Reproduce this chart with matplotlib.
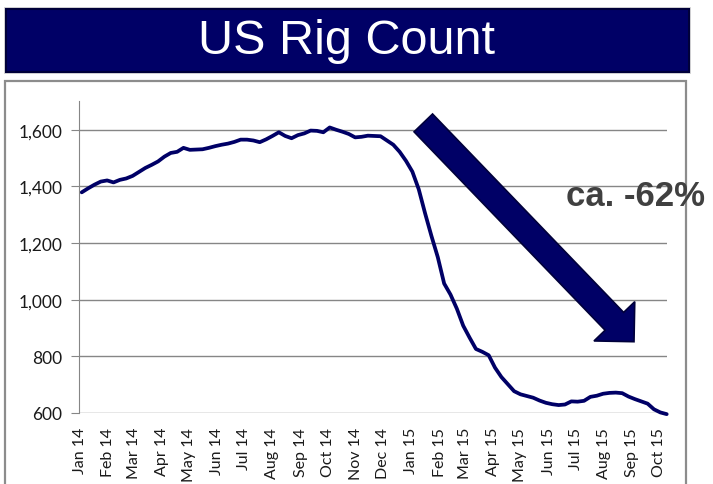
import matplotlib
matplotlib.use('Agg')
import matplotlib.pyplot as plt
import matplotlib.dates as mdates
from matplotlib.patches import FancyArrow, FancyBboxPatch, Rectangle
from matplotlib.ticker import FuncFormatter
from matplotlib.transforms import IdentityTransform
import pandas as pd

# weekly US oil rig count (first week of Jan 2014 .. early Oct 2015)
start_date = '2014-01-03'
rigs = [1379, 1393, 1406, 1417, 1421, 1414, 1423, 1428, 1437, 1451,
        1465, 1476, 1488, 1505, 1518, 1522, 1536, 1529, 1530, 1531,
        1536, 1542, 1547, 1551, 1557, 1565, 1565, 1562, 1556, 1566,
        1578, 1591, 1578, 1570, 1581, 1587, 1597, 1596, 1591, 1608,
        1600, 1593, 1585, 1573, 1575, 1579, 1578, 1577, 1562, 1547,
        1522, 1490, 1452, 1390, 1305, 1225, 1150, 1057, 1018, 968,
        908, 866, 826, 816, 804, 760, 727, 702, 677, 666,
        660, 654, 644, 636, 631, 628, 630, 641, 640, 643,
        657, 661, 668, 671, 672, 670, 658, 649, 641, 633,
        613, 602, 596]
y_ticks = [600, 800, 1000, 1200, 1400, 1600]
title = 'US Rig Count'
note = 'ca. -62%'

navy = '#000066'
grey = '#868686'

W, H = 713, 485
fig = plt.figure(figsize=(W / 100, H / 100), dpi=100)

def fx(px):
    return px / W

def fy(py):
    return 1 - py / H

# title banner
fig.add_artist(Rectangle((fx(4), fy(75)), fx(687), 67 / H, transform=fig.transFigure,
                         fc='#d8d8d8', ec='none'))
fig.add_artist(FancyBboxPatch((fx(6), fy(73)), fx(683), 63 / H, transform=fig.transFigure,
                              boxstyle='square,pad=0', fc=navy, ec='#00003a', lw=1.5))
fig.text(fx(347), fy(42), title, ha='center', va='center', color='white',
         fontsize=35, family='Liberation Sans')

# chart frame
fig.add_artist(Rectangle((fx(5), fy(495)), fx(681), 413 / H, transform=fig.transFigure,
                         fc='none', ec='#8c8c8c', lw=1.6))

ax = fig.add_axes([fx(79), fy(414), fx(587.7), (414 - 102.4) / H])
dates = pd.date_range(start_date, periods=len(rigs), freq='7D')
ax.plot(dates, rigs, color=navy, lw=2.7, clip_on=False, solid_joinstyle='round',
        solid_capstyle='round')

ax.set_ylim(600, 1700)
ax.set_yticks(y_ticks)
ax.yaxis.set_major_formatter(FuncFormatter(lambda v, p: f'{int(v):,}'))
ax.set_xlim(dates[0] - pd.Timedelta(days=3), dates[-1])
ax.xaxis.set_major_locator(mdates.MonthLocator())
ax.xaxis.set_major_formatter(mdates.DateFormatter('%b %y'))

ax.grid(axis='y', color=grey, lw=1)
ax.set_axisbelow(True)
for s in ['top', 'right', 'bottom']:
    ax.spines[s].set_visible(False)
ax.spines['left'].set_color(grey)
ax.tick_params(axis='y', length=6, color=grey, pad=6, labelsize=12.5, labelcolor='#1a1a1a')
ax.tick_params(axis='x', length=0, pad=10, labelsize=11.5, labelrotation=90, labelcolor='#1a1a1a')
for lab in ax.get_xticklabels() + ax.get_yticklabels():
    lab.set_family('Lato')

# big arrow and percentage
fig.add_artist(FancyArrow(423.3, 361.1, 210.7, -218.8, width=25.7, head_width=56.6,
                          head_length=28.3, length_includes_head=True,
                          transform=IdentityTransform(), fc=navy, ec='#00003a', lw=1.2))
fig.text(fx(635), fy(197), note, ha='center', va='center', fontsize=25,
         fontweight='bold', color='#404040', family='Liberation Sans')

fig.savefig('out.png', dpi=100)
